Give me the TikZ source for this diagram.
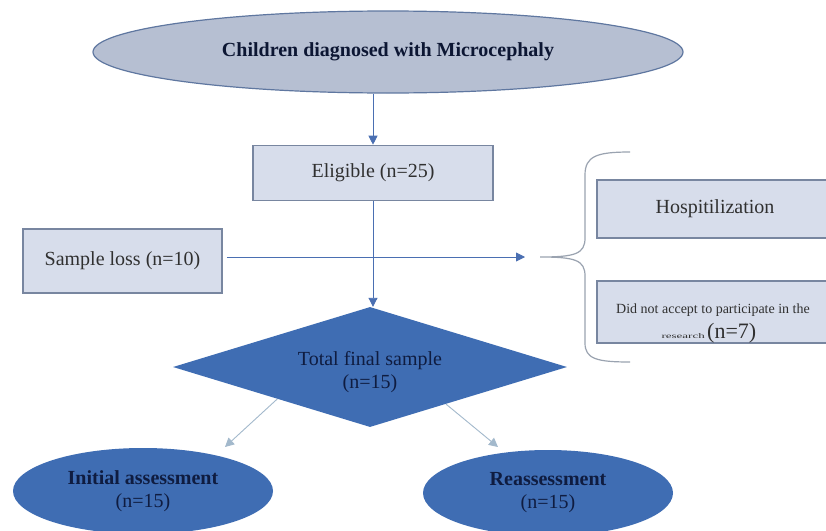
\documentclass[tikz,border=0pt]{standalone}
\usepackage{fontspec}
\setmainfont{Liberation Serif}
\usetikzlibrary{shapes.geometric,arrows.meta}
\definecolor{topfill}{HTML}{B6BFD2}
\definecolor{topdraw}{HTML}{5F77A0}
\definecolor{boxfill}{HTML}{D7DDEB}
\definecolor{boxdraw}{HTML}{7886A0}
\definecolor{darkfill}{HTML}{3F6DB3}
\definecolor{navy}{HTML}{0F1C40}
\definecolor{boxtext}{HTML}{303030}
\definecolor{arrblue}{HTML}{4A6FB2}
\definecolor{arrlight}{HTML}{A3B9CC}
\definecolor{bracecol}{HTML}{9AA3B0}
\tikzset{
  bigfont/.style={font=\fontsize{20}{23}\selectfont},
  boxnode/.style={draw=boxdraw, line width=1.6pt, fill=boxfill, inner sep=0pt, text=boxtext, bigfont, align=center},
  darknode/.style={fill=darkfill, draw=none, inner sep=0pt, text=navy, bigfont, align=center},
  arrA/.style={draw=arrblue, line width=0.9pt, -{Triangle[width=9pt,length=9pt]}},
  arrB/.style={draw=arrlight, line width=0.9pt, -{Triangle[width=9pt,length=9pt]}},
}
\begin{document}
\begin{tikzpicture}[x=1pt,y=-1pt]
\useasboundingbox (0,0) rectangle (826,530);
\clip (0,0) rectangle (826,530);
\fill[white] (0,0) rectangle (826,530);

\node[ellipse, draw=topdraw, line width=1.2pt, fill=topfill, minimum width=590pt, minimum height=82pt, inner sep=0pt, text=navy!80!black, bigfont]
  (top) at (388,52) {\textbf{Children diagnosed with Microcephaly}};

\node[boxnode, minimum width=240pt, minimum height=55pt] (elig) at (373,173) {Eligible (n=25)};
\node[boxnode, minimum width=199pt, minimum height=64pt] (loss) at (122.5,261) {Sample loss (n=10)};
\node[boxnode, minimum width=236pt, minimum height=58pt] (hosp) at (715,209) {Hospitilization};
\node[boxnode, minimum width=236pt, minimum height=62pt] (did) at (715,312) {};
\node[text=boxtext, font=\fontsize{14}{16}\selectfont, anchor=base] (didA) at (713,313) {Did not accept to participate in the};
\node[text=boxtext, anchor=base east, inner sep=0pt, font=\fontsize{13}{14}\selectfont] (didB) at (705,338) {\scalebox{1}[0.55]{research}};
\node[text=boxtext, anchor=base west, inner sep=0pt, font=\fontsize{22}{24}\selectfont] (didC) at (707,338) {(n=7)};

\node[darknode, diamond, shape aspect=3.3, minimum width=394pt, minimum height=120pt] (diam) at (370,367) {};
\node[text=navy, bigfont, align=center, inner sep=0pt] (diamt) at (370,372) {Total final sample\\(n=15)};

\node[darknode, ellipse, minimum width=260pt, minimum height=86pt] (init) at (143,491) {\textbf{Initial assessment}\\(n=15)};
\node[darknode, ellipse, minimum width=250pt, minimum height=86pt] (reas) at (548,493) {\textbf{Reassessment}\\(n=15)};

\coordinate (losstip) at (525,257);
\coordinate (inittip) at (225,447);
\coordinate (reastip) at (498,447);

\draw[arrA] (elig.north |- top.south) -- (elig.north);
\draw[arrA] (elig.south) -- (elig.south |- diam.north);
\draw[arrA, shorten <=4pt] (loss.east |- losstip) -- (losstip);
\draw[arrB] (diam.199) -- (inittip);
\draw[arrB] (diam.-26) -- (reastip);

\draw[bracecol, line width=1.2pt]
  (630,152) .. controls (597,152) and (585,156) .. (585,175)
  -- (585,238) .. controls (585,254) and (575,257) .. (540,257)
  .. controls (575,257) and (585,260) .. (585,276)
  -- (585,343) .. controls (585,359) and (597,362) .. (630,362);
\end{tikzpicture}
\end{document}
